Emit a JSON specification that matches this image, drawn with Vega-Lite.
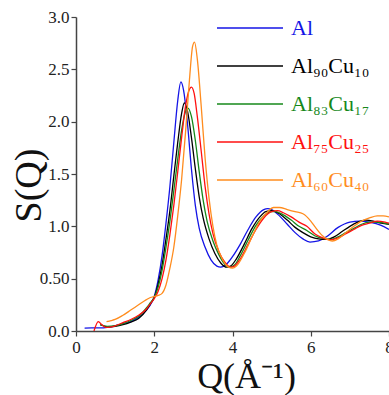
{
  "$schema": "https://vega.github.io/schema/vega-lite/v6.json",
  "width": 313,
  "height": 314,
  "autosize": "none",
  "padding": {"left": 76, "top": 17, "right": 0, "bottom": 64},
  "background": "white",
  "config": {
    "view": {"stroke": null},
    "font": "Liberation Serif"
  },
  "data": {
    "values": [
      {"alloy": "Al", "q": 0.22, "s": 0.028},
      {"alloy": "Al", "q": 0.4, "s": 0.03},
      {"alloy": "Al", "q": 0.6, "s": 0.03},
      {"alloy": "Al", "q": 0.8, "s": 0.035},
      {"alloy": "Al", "q": 1.0, "s": 0.05},
      {"alloy": "Al", "q": 1.2, "s": 0.07},
      {"alloy": "Al", "q": 1.4, "s": 0.09},
      {"alloy": "Al", "q": 1.6, "s": 0.13},
      {"alloy": "Al", "q": 1.8, "s": 0.2},
      {"alloy": "Al", "q": 1.9, "s": 0.25},
      {"alloy": "Al", "q": 2.0, "s": 0.33},
      {"alloy": "Al", "q": 2.1, "s": 0.49},
      {"alloy": "Al", "q": 2.2, "s": 0.72},
      {"alloy": "Al", "q": 2.3, "s": 1.03},
      {"alloy": "Al", "q": 2.4, "s": 1.38},
      {"alloy": "Al", "q": 2.5, "s": 1.8},
      {"alloy": "Al", "q": 2.6, "s": 2.2},
      {"alloy": "Al", "q": 2.68, "s": 2.38},
      {"alloy": "Al", "q": 2.75, "s": 2.3},
      {"alloy": "Al", "q": 2.85, "s": 1.98},
      {"alloy": "Al", "q": 2.95, "s": 1.55},
      {"alloy": "Al", "q": 3.05, "s": 1.2},
      {"alloy": "Al", "q": 3.15, "s": 0.98},
      {"alloy": "Al", "q": 3.3, "s": 0.8},
      {"alloy": "Al", "q": 3.45, "s": 0.68},
      {"alloy": "Al", "q": 3.6, "s": 0.62},
      {"alloy": "Al", "q": 3.7, "s": 0.61},
      {"alloy": "Al", "q": 3.85, "s": 0.64},
      {"alloy": "Al", "q": 4.0, "s": 0.71},
      {"alloy": "Al", "q": 4.2, "s": 0.83},
      {"alloy": "Al", "q": 4.4, "s": 0.97},
      {"alloy": "Al", "q": 4.6, "s": 1.09},
      {"alloy": "Al", "q": 4.8, "s": 1.16},
      {"alloy": "Al", "q": 4.9, "s": 1.17},
      {"alloy": "Al", "q": 5.0, "s": 1.16},
      {"alloy": "Al", "q": 5.2, "s": 1.1},
      {"alloy": "Al", "q": 5.4, "s": 1.02},
      {"alloy": "Al", "q": 5.6, "s": 0.94},
      {"alloy": "Al", "q": 5.8, "s": 0.88},
      {"alloy": "Al", "q": 5.98, "s": 0.85},
      {"alloy": "Al", "q": 6.2, "s": 0.86},
      {"alloy": "Al", "q": 6.4, "s": 0.9},
      {"alloy": "Al", "q": 6.7, "s": 0.99},
      {"alloy": "Al", "q": 7.0, "s": 1.04},
      {"alloy": "Al", "q": 7.25, "s": 1.05},
      {"alloy": "Al", "q": 7.5, "s": 1.04},
      {"alloy": "Al", "q": 7.8, "s": 1.01},
      {"alloy": "Al", "q": 8.0, "s": 0.97},

      {"alloy": "Al₉₀Cu₁₀", "q": 0.62, "s": 0.06},
      {"alloy": "Al₉₀Cu₁₀", "q": 0.8, "s": 0.04},
      {"alloy": "Al₉₀Cu₁₀", "q": 1.0, "s": 0.045},
      {"alloy": "Al₉₀Cu₁₀", "q": 1.2, "s": 0.06},
      {"alloy": "Al₉₀Cu₁₀", "q": 1.4, "s": 0.085},
      {"alloy": "Al₉₀Cu₁₀", "q": 1.6, "s": 0.12},
      {"alloy": "Al₉₀Cu₁₀", "q": 1.8, "s": 0.2},
      {"alloy": "Al₉₀Cu₁₀", "q": 1.9, "s": 0.26},
      {"alloy": "Al₉₀Cu₁₀", "q": 2.0, "s": 0.32},
      {"alloy": "Al₉₀Cu₁₀", "q": 2.1, "s": 0.45},
      {"alloy": "Al₉₀Cu₁₀", "q": 2.2, "s": 0.63},
      {"alloy": "Al₉₀Cu₁₀", "q": 2.3, "s": 0.88},
      {"alloy": "Al₉₀Cu₁₀", "q": 2.4, "s": 1.15},
      {"alloy": "Al₉₀Cu₁₀", "q": 2.5, "s": 1.48},
      {"alloy": "Al₉₀Cu₁₀", "q": 2.6, "s": 1.8},
      {"alloy": "Al₉₀Cu₁₀", "q": 2.7, "s": 2.08},
      {"alloy": "Al₉₀Cu₁₀", "q": 2.77, "s": 2.18},
      {"alloy": "Al₉₀Cu₁₀", "q": 2.85, "s": 2.1},
      {"alloy": "Al₉₀Cu₁₀", "q": 2.95, "s": 1.85},
      {"alloy": "Al₉₀Cu₁₀", "q": 3.05, "s": 1.55},
      {"alloy": "Al₉₀Cu₁₀", "q": 3.15, "s": 1.28},
      {"alloy": "Al₉₀Cu₁₀", "q": 3.25, "s": 1.08},
      {"alloy": "Al₉₀Cu₁₀", "q": 3.4, "s": 0.88},
      {"alloy": "Al₉₀Cu₁₀", "q": 3.55, "s": 0.74},
      {"alloy": "Al₉₀Cu₁₀", "q": 3.7, "s": 0.65},
      {"alloy": "Al₉₀Cu₁₀", "q": 3.85, "s": 0.61},
      {"alloy": "Al₉₀Cu₁₀", "q": 3.95, "s": 0.62},
      {"alloy": "Al₉₀Cu₁₀", "q": 4.1, "s": 0.69},
      {"alloy": "Al₉₀Cu₁₀", "q": 4.3, "s": 0.83},
      {"alloy": "Al₉₀Cu₁₀", "q": 4.5, "s": 0.98},
      {"alloy": "Al₉₀Cu₁₀", "q": 4.7, "s": 1.09},
      {"alloy": "Al₉₀Cu₁₀", "q": 4.85, "s": 1.14},
      {"alloy": "Al₉₀Cu₁₀", "q": 5.0, "s": 1.15},
      {"alloy": "Al₉₀Cu₁₀", "q": 5.2, "s": 1.12},
      {"alloy": "Al₉₀Cu₁₀", "q": 5.4, "s": 1.06},
      {"alloy": "Al₉₀Cu₁₀", "q": 5.6, "s": 0.99},
      {"alloy": "Al₉₀Cu₁₀", "q": 5.8, "s": 0.94},
      {"alloy": "Al₉₀Cu₁₀", "q": 6.0, "s": 0.9},
      {"alloy": "Al₉₀Cu₁₀", "q": 6.2, "s": 0.88},
      {"alloy": "Al₉₀Cu₁₀", "q": 6.4, "s": 0.875},
      {"alloy": "Al₉₀Cu₁₀", "q": 6.6, "s": 0.9},
      {"alloy": "Al₉₀Cu₁₀", "q": 6.8, "s": 0.95},
      {"alloy": "Al₉₀Cu₁₀", "q": 7.0, "s": 1.0},
      {"alloy": "Al₉₀Cu₁₀", "q": 7.2, "s": 1.04},
      {"alloy": "Al₉₀Cu₁₀", "q": 7.4, "s": 1.06},
      {"alloy": "Al₉₀Cu₁₀", "q": 7.6, "s": 1.05},
      {"alloy": "Al₉₀Cu₁₀", "q": 7.8, "s": 1.03},
      {"alloy": "Al₉₀Cu₁₀", "q": 8.0, "s": 1.02},

      {"alloy": "Al₈₃Cu₁₇", "q": 0.62, "s": 0.06},
      {"alloy": "Al₈₃Cu₁₇", "q": 0.8, "s": 0.045},
      {"alloy": "Al₈₃Cu₁₇", "q": 1.0, "s": 0.05},
      {"alloy": "Al₈₃Cu₁₇", "q": 1.2, "s": 0.07},
      {"alloy": "Al₈₃Cu₁₇", "q": 1.4, "s": 0.1},
      {"alloy": "Al₈₃Cu₁₇", "q": 1.6, "s": 0.14},
      {"alloy": "Al₈₃Cu₁₇", "q": 1.8, "s": 0.22},
      {"alloy": "Al₈₃Cu₁₇", "q": 1.9, "s": 0.27},
      {"alloy": "Al₈₃Cu₁₇", "q": 2.0, "s": 0.32},
      {"alloy": "Al₈₃Cu₁₇", "q": 2.1, "s": 0.42},
      {"alloy": "Al₈₃Cu₁₇", "q": 2.2, "s": 0.58},
      {"alloy": "Al₈₃Cu₁₇", "q": 2.3, "s": 0.8},
      {"alloy": "Al₈₃Cu₁₇", "q": 2.4, "s": 1.05},
      {"alloy": "Al₈₃Cu₁₇", "q": 2.5, "s": 1.34},
      {"alloy": "Al₈₃Cu₁₇", "q": 2.6, "s": 1.64},
      {"alloy": "Al₈₃Cu₁₇", "q": 2.7, "s": 1.92},
      {"alloy": "Al₈₃Cu₁₇", "q": 2.8, "s": 2.1},
      {"alloy": "Al₈₃Cu₁₇", "q": 2.86, "s": 2.13},
      {"alloy": "Al₈₃Cu₁₇", "q": 2.95, "s": 2.05},
      {"alloy": "Al₈₃Cu₁₇", "q": 3.05, "s": 1.82},
      {"alloy": "Al₈₃Cu₁₇", "q": 3.15, "s": 1.52},
      {"alloy": "Al₈₃Cu₁₇", "q": 3.25, "s": 1.25},
      {"alloy": "Al₈₃Cu₁₇", "q": 3.35, "s": 1.05},
      {"alloy": "Al₈₃Cu₁₇", "q": 3.5, "s": 0.86},
      {"alloy": "Al₈₃Cu₁₇", "q": 3.65, "s": 0.73},
      {"alloy": "Al₈₃Cu₁₇", "q": 3.8, "s": 0.64},
      {"alloy": "Al₈₃Cu₁₇", "q": 3.92, "s": 0.61},
      {"alloy": "Al₈₃Cu₁₇", "q": 4.05, "s": 0.63},
      {"alloy": "Al₈₃Cu₁₇", "q": 4.2, "s": 0.72},
      {"alloy": "Al₈₃Cu₁₇", "q": 4.4, "s": 0.87},
      {"alloy": "Al₈₃Cu₁₇", "q": 4.6, "s": 1.01},
      {"alloy": "Al₈₃Cu₁₇", "q": 4.8, "s": 1.1},
      {"alloy": "Al₈₃Cu₁₇", "q": 5.0, "s": 1.14},
      {"alloy": "Al₈₃Cu₁₇", "q": 5.1, "s": 1.14},
      {"alloy": "Al₈₃Cu₁₇", "q": 5.3, "s": 1.11},
      {"alloy": "Al₈₃Cu₁₇", "q": 5.5, "s": 1.06},
      {"alloy": "Al₈₃Cu₁₇", "q": 5.7, "s": 1.0},
      {"alloy": "Al₈₃Cu₁₇", "q": 5.9, "s": 0.96},
      {"alloy": "Al₈₃Cu₁₇", "q": 6.1, "s": 0.91},
      {"alloy": "Al₈₃Cu₁₇", "q": 6.3, "s": 0.885},
      {"alloy": "Al₈₃Cu₁₇", "q": 6.5, "s": 0.875},
      {"alloy": "Al₈₃Cu₁₇", "q": 6.7, "s": 0.9},
      {"alloy": "Al₈₃Cu₁₇", "q": 6.9, "s": 0.94},
      {"alloy": "Al₈₃Cu₁₇", "q": 7.1, "s": 0.98},
      {"alloy": "Al₈₃Cu₁₇", "q": 7.3, "s": 1.02},
      {"alloy": "Al₈₃Cu₁₇", "q": 7.5, "s": 1.04},
      {"alloy": "Al₈₃Cu₁₇", "q": 7.7, "s": 1.04},
      {"alloy": "Al₈₃Cu₁₇", "q": 8.0, "s": 1.02},

      {"alloy": "Al₇₅Cu₂₅", "q": 0.46, "s": 0.0},
      {"alloy": "Al₇₅Cu₂₅", "q": 0.57, "s": 0.09},
      {"alloy": "Al₇₅Cu₂₅", "q": 0.66, "s": 0.06},
      {"alloy": "Al₇₅Cu₂₅", "q": 0.76, "s": 0.035},
      {"alloy": "Al₇₅Cu₂₅", "q": 0.9, "s": 0.04},
      {"alloy": "Al₇₅Cu₂₅", "q": 1.0, "s": 0.05},
      {"alloy": "Al₇₅Cu₂₅", "q": 1.2, "s": 0.08},
      {"alloy": "Al₇₅Cu₂₅", "q": 1.4, "s": 0.11},
      {"alloy": "Al₇₅Cu₂₅", "q": 1.6, "s": 0.15},
      {"alloy": "Al₇₅Cu₂₅", "q": 1.8, "s": 0.21},
      {"alloy": "Al₇₅Cu₂₅", "q": 1.9, "s": 0.26},
      {"alloy": "Al₇₅Cu₂₅", "q": 2.0, "s": 0.31},
      {"alloy": "Al₇₅Cu₂₅", "q": 2.1, "s": 0.38},
      {"alloy": "Al₇₅Cu₂₅", "q": 2.2, "s": 0.5},
      {"alloy": "Al₇₅Cu₂₅", "q": 2.3, "s": 0.68},
      {"alloy": "Al₇₅Cu₂₅", "q": 2.4, "s": 0.92},
      {"alloy": "Al₇₅Cu₂₅", "q": 2.5, "s": 1.2},
      {"alloy": "Al₇₅Cu₂₅", "q": 2.6, "s": 1.52},
      {"alloy": "Al₇₅Cu₂₅", "q": 2.7, "s": 1.85},
      {"alloy": "Al₇₅Cu₂₅", "q": 2.8, "s": 2.15},
      {"alloy": "Al₇₅Cu₂₅", "q": 2.9, "s": 2.31},
      {"alloy": "Al₇₅Cu₂₅", "q": 2.95, "s": 2.33},
      {"alloy": "Al₇₅Cu₂₅", "q": 3.02, "s": 2.27},
      {"alloy": "Al₇₅Cu₂₅", "q": 3.1, "s": 2.05},
      {"alloy": "Al₇₅Cu₂₅", "q": 3.2, "s": 1.72},
      {"alloy": "Al₇₅Cu₂₅", "q": 3.3, "s": 1.38},
      {"alloy": "Al₇₅Cu₂₅", "q": 3.4, "s": 1.12},
      {"alloy": "Al₇₅Cu₂₅", "q": 3.5, "s": 0.93},
      {"alloy": "Al₇₅Cu₂₅", "q": 3.65, "s": 0.76},
      {"alloy": "Al₇₅Cu₂₅", "q": 3.8, "s": 0.66},
      {"alloy": "Al₇₅Cu₂₅", "q": 3.95, "s": 0.61},
      {"alloy": "Al₇₅Cu₂₅", "q": 4.05, "s": 0.62},
      {"alloy": "Al₇₅Cu₂₅", "q": 4.2, "s": 0.69},
      {"alloy": "Al₇₅Cu₂₅", "q": 4.4, "s": 0.83},
      {"alloy": "Al₇₅Cu₂₅", "q": 4.6, "s": 0.97},
      {"alloy": "Al₇₅Cu₂₅", "q": 4.8, "s": 1.08},
      {"alloy": "Al₇₅Cu₂₅", "q": 5.0, "s": 1.14},
      {"alloy": "Al₇₅Cu₂₅", "q": 5.15, "s": 1.15},
      {"alloy": "Al₇₅Cu₂₅", "q": 5.3, "s": 1.13},
      {"alloy": "Al₇₅Cu₂₅", "q": 5.5, "s": 1.09},
      {"alloy": "Al₇₅Cu₂₅", "q": 5.7, "s": 1.04},
      {"alloy": "Al₇₅Cu₂₅", "q": 5.9, "s": 1.0},
      {"alloy": "Al₇₅Cu₂₅", "q": 6.1, "s": 0.93},
      {"alloy": "Al₇₅Cu₂₅", "q": 6.3, "s": 0.89},
      {"alloy": "Al₇₅Cu₂₅", "q": 6.5, "s": 0.87},
      {"alloy": "Al₇₅Cu₂₅", "q": 6.7, "s": 0.89},
      {"alloy": "Al₇₅Cu₂₅", "q": 6.9, "s": 0.93},
      {"alloy": "Al₇₅Cu₂₅", "q": 7.1, "s": 0.97},
      {"alloy": "Al₇₅Cu₂₅", "q": 7.3, "s": 1.01},
      {"alloy": "Al₇₅Cu₂₅", "q": 7.5, "s": 1.03},
      {"alloy": "Al₇₅Cu₂₅", "q": 7.7, "s": 1.05},
      {"alloy": "Al₇₅Cu₂₅", "q": 7.9, "s": 1.04},
      {"alloy": "Al₇₅Cu₂₅", "q": 8.0, "s": 1.03},

      {"alloy": "Al₆₀Cu₄₀", "q": 0.78, "s": 0.09},
      {"alloy": "Al₆₀Cu₄₀", "q": 0.9, "s": 0.1},
      {"alloy": "Al₆₀Cu₄₀", "q": 1.0, "s": 0.11},
      {"alloy": "Al₆₀Cu₄₀", "q": 1.2, "s": 0.15},
      {"alloy": "Al₆₀Cu₄₀", "q": 1.4, "s": 0.2},
      {"alloy": "Al₆₀Cu₄₀", "q": 1.6, "s": 0.25},
      {"alloy": "Al₆₀Cu₄₀", "q": 1.8, "s": 0.3},
      {"alloy": "Al₆₀Cu₄₀", "q": 1.9, "s": 0.32},
      {"alloy": "Al₆₀Cu₄₀", "q": 2.0, "s": 0.33},
      {"alloy": "Al₆₀Cu₄₀", "q": 2.1, "s": 0.34},
      {"alloy": "Al₆₀Cu₄₀", "q": 2.2, "s": 0.36},
      {"alloy": "Al₆₀Cu₄₀", "q": 2.3, "s": 0.44},
      {"alloy": "Al₆₀Cu₄₀", "q": 2.4, "s": 0.6},
      {"alloy": "Al₆₀Cu₄₀", "q": 2.5, "s": 0.8},
      {"alloy": "Al₆₀Cu₄₀", "q": 2.6, "s": 1.1},
      {"alloy": "Al₆₀Cu₄₀", "q": 2.7, "s": 1.45},
      {"alloy": "Al₆₀Cu₄₀", "q": 2.8, "s": 1.9},
      {"alloy": "Al₆₀Cu₄₀", "q": 2.9, "s": 2.4},
      {"alloy": "Al₆₀Cu₄₀", "q": 2.98, "s": 2.72},
      {"alloy": "Al₆₀Cu₄₀", "q": 3.03, "s": 2.76},
      {"alloy": "Al₆₀Cu₄₀", "q": 3.1, "s": 2.6},
      {"alloy": "Al₆₀Cu₄₀", "q": 3.2, "s": 2.15},
      {"alloy": "Al₆₀Cu₄₀", "q": 3.3, "s": 1.65},
      {"alloy": "Al₆₀Cu₄₀", "q": 3.4, "s": 1.27},
      {"alloy": "Al₆₀Cu₄₀", "q": 3.5, "s": 1.0},
      {"alloy": "Al₆₀Cu₄₀", "q": 3.6, "s": 0.82},
      {"alloy": "Al₆₀Cu₄₀", "q": 3.75, "s": 0.68},
      {"alloy": "Al₆₀Cu₄₀", "q": 3.9, "s": 0.61},
      {"alloy": "Al₆₀Cu₄₀", "q": 4.0, "s": 0.6},
      {"alloy": "Al₆₀Cu₄₀", "q": 4.1, "s": 0.62},
      {"alloy": "Al₆₀Cu₄₀", "q": 4.3, "s": 0.74},
      {"alloy": "Al₆₀Cu₄₀", "q": 4.5, "s": 0.9},
      {"alloy": "Al₆₀Cu₄₀", "q": 4.7, "s": 1.05},
      {"alloy": "Al₆₀Cu₄₀", "q": 4.9, "s": 1.14},
      {"alloy": "Al₆₀Cu₄₀", "q": 5.05, "s": 1.18},
      {"alloy": "Al₆₀Cu₄₀", "q": 5.2, "s": 1.18},
      {"alloy": "Al₆₀Cu₄₀", "q": 5.4, "s": 1.16},
      {"alloy": "Al₆₀Cu₄₀", "q": 5.6, "s": 1.14},
      {"alloy": "Al₆₀Cu₄₀", "q": 5.8, "s": 1.12},
      {"alloy": "Al₆₀Cu₄₀", "q": 6.0, "s": 1.05},
      {"alloy": "Al₆₀Cu₄₀", "q": 6.1, "s": 1.0},
      {"alloy": "Al₆₀Cu₄₀", "q": 6.3, "s": 0.91},
      {"alloy": "Al₆₀Cu₄₀", "q": 6.55, "s": 0.86},
      {"alloy": "Al₆₀Cu₄₀", "q": 6.7, "s": 0.88},
      {"alloy": "Al₆₀Cu₄₀", "q": 6.9, "s": 0.94},
      {"alloy": "Al₆₀Cu₄₀", "q": 7.1, "s": 1.0},
      {"alloy": "Al₆₀Cu₄₀", "q": 7.3, "s": 1.05},
      {"alloy": "Al₆₀Cu₄₀", "q": 7.5, "s": 1.08},
      {"alloy": "Al₆₀Cu₄₀", "q": 7.7, "s": 1.1},
      {"alloy": "Al₆₀Cu₄₀", "q": 7.85, "s": 1.1},
      {"alloy": "Al₆₀Cu₄₀", "q": 8.0, "s": 1.09}
    ]
  },
  "mark": {"type": "line", "strokeWidth": 1.3, "interpolate": "monotone", "clip": true},
  "encoding": {
    "x": {
      "field": "q",
      "type": "quantitative",
      "scale": {"domain": [0, 8], "nice": false, "zero": false},
      "axis": {
        "title": "Q(Å⁻¹)",
        "values": [0, 2, 4, 6, 8],
        "format": "d",
        "grid": false,
        "domainColor": "#444",
        "domainWidth": 1.5,
        "tickColor": "#444",
        "tickWidth": 1.2,
        "tickSize": 5,
        "labelFont": "Liberation Serif",
        "labelFontSize": 17,
        "labelColor": "#222",
        "labelPadding": 3,
        "labelFlush": false,
        "titleFont": "Liberation Serif",
        "titleFontSize": 36,
        "titleFontWeight": "normal",
        "titleColor": "#111",
        "titleX": 170,
        "titleY": 56,
        "titleAlign": "center",
        "titleBaseline": "alphabetic"
      }
    },
    "y": {
      "field": "s",
      "type": "quantitative",
      "scale": {"domain": [0, 3], "nice": false},
      "axis": {
        "title": "S(Q)",
        "values": [0, 0.5, 1, 1.5, 2, 2.5, 3],
        "labelExpr": "datum.value == 0.5 ? '0.50' : format(datum.value, '.1f')",
        "grid": false,
        "domainColor": "#444",
        "domainWidth": 1.5,
        "tickColor": "#444",
        "tickWidth": 1.2,
        "tickSize": 5,
        "labelFont": "Liberation Serif",
        "labelFontSize": 17,
        "labelColor": "#222",
        "labelPadding": 2,
        "labelFlush": false,
        "titleFont": "Liberation Serif",
        "titleFontSize": 38,
        "titleFontWeight": "normal",
        "titleColor": "#111",
        "titleAngle": 270,
        "titleX": -47,
        "titleY": 168,
        "titleAlign": "center",
        "titleBaseline": "middle"
      }
    },
    "color": {
      "field": "alloy",
      "type": "nominal",
      "sort": ["Al", "Al₉₀Cu₁₀", "Al₈₃Cu₁₇", "Al₇₅Cu₂₅", "Al₆₀Cu₄₀"],
      "scale": {
        "domain": ["Al", "Al₉₀Cu₁₀", "Al₈₃Cu₁₇", "Al₇₅Cu₂₅", "Al₆₀Cu₄₀"],
        "range": ["#1414e6", "#000000", "#16881a", "#ff1010", "#ff8c1e"]
      },
      "legend": {
        "title": null,
        "orient": "none",
        "legendX": 163,
        "legendY": 0,
        "padding": 0,
        "symbolType": "M-5.5,0H5.5",
        "symbolSize": 144,
        "symbolStrokeWidth": 1.5,
        "labelOffset": 30,
        "labelFont": "Liberation Serif",
        "labelFontSize": 22,
        "labelLimit": 0,
        "labelColor": {"expr": "scale('color', datum.value)"},
        "rowPadding": 16
      }
    }
  }
}
